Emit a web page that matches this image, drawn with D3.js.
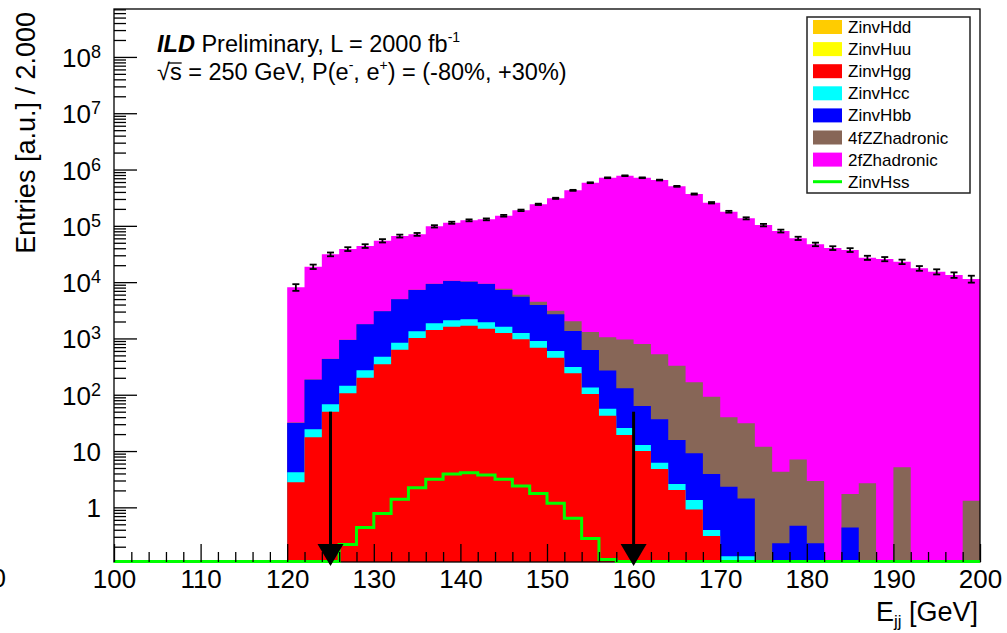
<!DOCTYPE html>
<html><head><meta charset="utf-8">
<script src="https://cdn.jsdelivr.net/npm/d3@7"></script>
<style>
body{margin:0;background:#fff;}
svg{display:block;}
text{font-family:"Liberation Sans",Arial,Helvetica,sans-serif;fill:#000;}
</style>
</head><body>
<svg id="c" width="1007" height="633"></svg>
<script>
// ---------------- data ----------------
const binEdges = [120,122,124,126,128,130,132,134,136,138,140,142,144,146,148,150,152,154,156,158,
                  160,162,164,166,168,170,172,174,176,178,180,182,184,186,188,190,192,194,196,198,200];
const zinvHdd = [0,0,0,0,0,0,0,0,0,0,0,0,0,0,0,0,0,0,0,0,0,0,0,0,0,0,0,0,0,0,0,0,0,0,0,0,0,0,0,0];
const zinvHuu = [0,0,0,0,0,0,0,0,0,0,0,0,0,0,0,0,0,0,0,0,0,0,0,0,0,0,0,0,0,0,0,0,0,0,0,0,0,0,0,0];
const zinvHgg = [2.78,17.5,50,106,200,347,630,1016,1410,1614,1682,1487,1247,964,684,454,240,103,42.5,19.2,
                 10,4.8,2.03,0.92,0.31,0,0,0,0,0,0,0,0,0,0,0,0,0,0,0];
const zinvHcc = [1.41,6.8,17.5,38,71,126,209,321,445,481,501,445,367,283,216,143,70,32,14,6.4,
                 2.8,1.4,0.57,0.43,0.085,0.136,0.136,0,0,0,0,0,0,0,0,0,0,0,0,0];
const zinvHbb = [27.4,160.7,362.5,793,1509,2557,4111,5903,7395,8375,7977,7318,5626,4263,3020,2083,1050,487,213.5,105.4,
                 50.2,30.6,13.1,7.75,3.5,2.18,1.3,0,0.23,0.47,0.23,0,0.44,0,0,0,0,0,0,0];
const zz4fHadronic = [0.4,2,5,8,15,25,40,60,80,100,120,150,400,460,570,420,653,678,777,829,
                      732,485,311,157,88,37.7,29.6,11.9,4.07,6.63,2.7,0,1.28,2.67,0,5.13,0,0,0,1.31];
const z2fHadronic = [8070,18610,30770,37760,42000,51250,60910,63300,88670,102930,115020,121000,143360,182530,236510,304900,424990,581700,712950,775040,
                     713200,649480,502670,366830,256910,177960,135970,102990,80900,59990,46900,40300,37200,27100,25700,23000,17600,15300,13400,11400];
const totalErr = [1100,1700,2400,3000,3300,3700,3900,4100,4600,4800,4900,5000,5300,5700,6400,7200,8500,10000,11000,11500,
                  11000,10500,9500,8500,7500,6500,5800,5200,4700,4000,3400,3100,2900,2300,2200,2100,1700,1600,1500,1600];
const zinvHss = [0,0,0,0.22,0.44,0.78,1.39,2.23,3.14,3.9,4.12,3.75,3.14,2.39,1.77,1.18,0.64,0.28,0.119,0,
                 0,0,0,0,0,0,0,0,0,0,0,0,0,0,0,0,0,0,0,0];
const cutValues = [125, 160];
const arrowTopValues = [50, 50];
const xRange = [100, 200];
const yRange = [0.107, 7.1e8];
const xMajorTicks = [100,110,120,130,140,150,160,170,180,190,200];
const yMajorTicks = [1,10,1e2,1e3,1e4,1e5,1e6,1e7,1e8];
const yTickLabels = [["1",""],["10",""],["10","2"],["10","3"],["10","4"],["10","5"],["10","6"],["10","7"],["10","8"]];
const stackNames = ["ZinvHdd","ZinvHuu","ZinvHgg","ZinvHcc","ZinvHbb","4fZZhadronic","2fZhadronic"];
const stackColors = ["#ffcc00","#ffff00","#ff0000","#00ffff","#0000ff","#876657","#ff00ff"];
const legendNames = ["ZinvHdd","ZinvHuu","ZinvHgg","ZinvHcc","ZinvHbb","4fZZhadronic","2fZhadronic","ZinvHss"];
const legendColors = ["#ffcc00","#ffff00","#ff0000","#00ffff","#0000ff","#876657","#ff00ff","#00ff00"];
const legendKinds = ["fill","fill","fill","fill","fill","fill","fill","line"];

// ---------------- layout ----------------
const M = {left:114, right:980, top:9, bottom:562};
const svg = d3.select("#c");
const x = d3.scaleLinear().domain(xRange).range([M.left, M.right]);
const y = d3.scaleLog().domain(yRange).range([M.bottom, M.top]).clamp(true);

svg.append("defs").append("clipPath").attr("id","plot")
  .append("rect").attr("x",M.left).attr("y",M.top).attr("width",M.right-M.left).attr("height",M.bottom-M.top);

// stacked cumulative
const layers = [zinvHdd, zinvHuu, zinvHgg, zinvHcc, zinvHbb, zz4fHadronic, z2fHadronic];
const cum = [];
let run = layers[0].map(()=>0);
layers.forEach(l => { run = run.map((v,i)=>v + l[i]); cum.push(run.slice()); });
const total = cum[cum.length-1];

function stepPoints(vals){
  const pts = vals.map((v,i)=>({x:binEdges[i], v}));
  pts.push({x:binEdges[binEdges.length-1], v:vals[vals.length-1]});
  return pts;
}
const area = d3.area().curve(d3.curveStepAfter)
  .x(d=>x(d.x)).y0(M.bottom).y1(d=> d.v>0 ? y(d.v) : M.bottom);

const gHist = svg.append("g").attr("clip-path","url(#plot)");
for (let k = cum.length-1; k >= 0; k--) {
  gHist.append("path").attr("d", area(stepPoints(cum[k])))
    .attr("fill", stackColors[k]).attr("stroke","none");
}

// frame
svg.append("rect").attr("x",M.left).attr("y",M.top).attr("width",M.right-M.left).attr("height",M.bottom-M.top)
  .attr("fill","none").attr("stroke","#000").attr("stroke-width",1.3);

// Hss line (unstacked)
const hssPts = [{x:xRange[0], v:0}].concat(stepPoints(zinvHss));
const hssLine = d3.line().curve(d3.curveStepAfter)
  .x(d=>x(d.x)).y(d=> d.v>0 ? y(d.v) : M.bottom-0.5);
svg.append("path").attr("d", hssLine(hssPts)).attr("fill","none")
  .attr("stroke","#00ff00").attr("stroke-width",3);

// error bars on total
const gErr = svg.append("g").attr("stroke","#000").attr("stroke-width",1.8);
total.forEach((t,i)=>{
  const cx = x((binEdges[i]+binEdges[i+1])/2);
  const y1 = y(t + totalErr[i]), y2 = y(t - totalErr[i]);
  gErr.append("line").attr("x1",cx).attr("x2",cx).attr("y1",y1).attr("y2",y2);
  gErr.append("line").attr("x1",cx-3.5).attr("x2",cx+3.5).attr("y1",y1).attr("y2",y1);
  gErr.append("line").attr("x1",cx-3.5).attr("x2",cx+3.5).attr("y1",y2).attr("y2",y2);
});

// axes: x
const xMinor = d3.range(xRange[0], xRange[1]+0.001, 2).filter(v=>!xMajorTicks.includes(v));
const gx = svg.append("g").attr("transform",`translate(0,${M.bottom})`);
gx.call(d3.axisBottom(x).tickValues(xMajorTicks).tickSize(-18).tickPadding(7.5).tickFormat(d3.format("d")));
gx.select(".domain").remove();
gx.selectAll(".tick line").attr("stroke","#000").attr("stroke-width",1.3);
gx.selectAll(".tick text").attr("font-size",26).attr("font-family","Liberation Sans, Arial, sans-serif").attr("fill","#000");
const gx2 = svg.append("g").attr("transform",`translate(0,${M.bottom})`);
gx2.call(d3.axisBottom(x).tickValues(xMinor).tickSize(-10).tickFormat(""));
gx2.select(".domain").remove();
gx2.selectAll(".tick line").attr("stroke","#000").attr("stroke-width",1.3);

// axes: y
const yMinor = [];
for (let e=-1; e<=8; e++) for (let m=2; m<=9; m++) { const v=m*Math.pow(10,e); if (v>yRange[0] && v<yRange[1]) yMinor.push(v); }
const gy = svg.append("g").attr("transform",`translate(${M.left},0)`);
gy.call(d3.axisLeft(y).tickValues(yMajorTicks).tickSize(-23).tickFormat(""));
gy.select(".domain").remove();
gy.selectAll(".tick line").attr("stroke","#000").attr("stroke-width",1.3);
const gy2 = svg.append("g").attr("transform",`translate(${M.left},0)`);
gy2.call(d3.axisLeft(y).tickValues(yMinor).tickSize(-12).tickFormat(""));
gy2.select(".domain").remove();
gy2.selectAll(".tick line").attr("stroke","#000").attr("stroke-width",1.3);

yMajorTicks.forEach((v,i)=>{
  const lab = yTickLabels[i];
  const t = svg.append("text").attr("x",101).attr("y",y(v)+10).attr("text-anchor","end").attr("font-size",26);
  if (lab[1]) {
    t.append("tspan").text(lab[0]);
    t.append("tspan").attr("font-size",18).attr("dy",-9).text(lab[1]);
  } else t.text(lab[0]);
});

// cut-off label at far left (as in the reference)
svg.append("text").attr("x",6).attr("y",587).attr("text-anchor","end").attr("font-size",26).text("0");

// axis titles
svg.append("text").attr("transform","translate(35,12) rotate(-90)").attr("text-anchor","end")
  .attr("font-size",27).text("Entries [a.u.] / 2.000");
const xt = svg.append("text").attr("x",978).attr("y",621).attr("text-anchor","end").attr("font-size",27);
xt.append("tspan").text("E");
xt.append("tspan").attr("font-size",17).attr("dy",6).text("jj");
xt.append("tspan").attr("dy",-6).text(" [GeV]");

// cut arrows
const gArr = svg.append("g");
cutValues.forEach((c,i)=>{
  const cx = x(c);
  const tip = M.bottom + 4, headH = 22, headW = 13;
  gArr.append("line").attr("x1",cx).attr("x2",cx).attr("y1",y(arrowTopValues[i])).attr("y2",tip-headH+2)
    .attr("stroke","#000").attr("stroke-width",3);
  gArr.append("path").attr("d",`M${cx-headW},${tip-headH}L${cx+headW},${tip-headH}L${cx},${tip}Z`).attr("fill","#000");
});

// header text
const t1 = svg.append("text").attr("x",157).attr("y",52).attr("font-size",23.5);
t1.append("tspan").attr("font-weight","bold").attr("font-style","italic").text("ILD");
t1.append("tspan").text(" Preliminary, L = 2000 fb");
t1.append("tspan").attr("font-size",14).attr("dy",-10).text("-1");

const t2 = svg.append("text").attr("x",157).attr("y",80).attr("font-size",23.5);
t2.append("tspan").text("\u221As = 250 GeV, P(e");
t2.append("tspan").attr("font-size",14).attr("dy",-10).text("-");
t2.append("tspan").attr("dy",10).text(", e");
t2.append("tspan").attr("font-size",14).attr("dy",-10).text("+");
t2.append("tspan").attr("dy",10).text(") = (-80%, +30%)");
try {
  const node = t2.node();
  const e0 = node.getExtentOfChar(0), e1 = node.getExtentOfChar(1);
  const yy = 80 - 17;
  svg.append("line").attr("x1",e0.x+e0.width-2).attr("x2",e1.x+e1.width).attr("y1",yy).attr("y2",yy)
    .attr("stroke","#000").attr("stroke-width",1.3);
} catch(e) {}

// legend
const L = {x:807, y:17, w:163, h:176, row:22.1};
svg.append("rect").attr("x",L.x).attr("y",L.y).attr("width",L.w).attr("height",L.h)
  .attr("fill","#fff").attr("stroke","#222").attr("stroke-width",1.5);
legendNames.forEach((n,i)=>{
  const cy = L.y + 10 + L.row*i;
  if (legendKinds[i]==="fill") {
    svg.append("rect").attr("x",813).attr("y",cy-7).attr("width",29).attr("height",14).attr("fill",legendColors[i]);
  } else {
    svg.append("line").attr("x1",813).attr("x2",842).attr("y1",cy).attr("y2",cy).attr("stroke",legendColors[i]).attr("stroke-width",3);
  }
  svg.append("text").attr("x",848).attr("y",cy+6).attr("font-size",17).text(n);
});
</script>
</body></html>
